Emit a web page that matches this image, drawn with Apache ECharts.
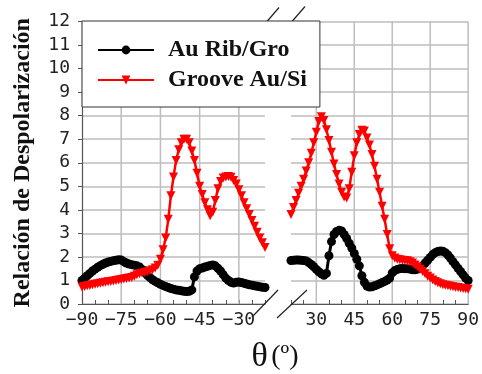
<!DOCTYPE html>
<html>
<head>
<meta charset="utf-8">
<script src="https://cdn.jsdelivr.net/npm/echarts@6/dist/echarts.min.js"></script>
<style>
  html, body { margin: 0; padding: 0; background: #fff; }
  #chart { width: 482px; height: 374px; }
</style>
</head>
<body>
<div id="chart"></div>
<script>
// Scattering angle (degrees) sampled on each side of the axis break
const thetaLeft = [-90,-89,-88,-87,-86,-85,-84,-83,-82,-81,-80,-79,-78,-77,-76,-75,-74,-73,-72,-71,
  -70,-69,-68,-67,-66,-65,-64,-63,-62,-61,-60,-59,-58,-57,-56,-55,-54,-53,-52,-51,
  -50,-49,-48,-47,-46,-45,-44,-43,-42,-41,-40,-39,-38,-37,-36,-35,-34,-33,-32,-31,
  -30,-29,-28,-27,-26,-25,-24,-23,-22,-21,-20];
const thetaRight = [20,21,22,23,24,25,26,27,28,29,30,31,32,33,34,35,36,37,38,39,
  40,41,42,43,44,45,46,47,48,49,50,51,52,53,54,55,56,57,58,59,
  60,61,62,63,64,65,66,67,68,69,70,71,72,73,74,75,76,77,78,79,
  80,81,82,83,84,85,86,87,88,89,90];

// Depolarization ratio, Au rib / groove
const ribLeft = [1.00,1.10,1.20,1.30,1.40,1.48,1.56,1.63,1.69,1.74,1.78,1.81,1.84,1.86,1.88,1.87,1.80,1.74,1.70,1.67,
  1.65,1.62,1.57,1.47,1.35,1.22,1.12,1.03,0.96,0.90,0.84,0.79,0.74,0.70,0.66,0.63,0.60,0.58,0.56,0.54,
  0.53,0.54,0.60,1.15,1.40,1.50,1.53,1.57,1.60,1.64,1.66,1.62,1.52,1.40,1.25,1.10,1.00,0.92,0.89,0.92,
  0.93,0.91,0.88,0.85,0.82,0.80,0.77,0.75,0.73,0.71,0.70];
const ribRight = [1.85,1.86,1.87,1.87,1.86,1.85,1.83,1.76,1.68,1.58,1.47,1.37,1.28,1.22,1.30,2.05,2.65,2.95,3.08,3.13,
  3.10,2.95,2.78,2.58,2.38,2.15,1.90,1.62,1.20,0.92,0.76,0.72,0.73,0.77,0.81,0.86,0.91,0.96,1.02,1.10,
  1.32,1.42,1.47,1.50,1.51,1.50,1.50,1.48,1.46,1.45,1.48,1.54,1.62,1.74,1.86,1.98,2.10,2.18,2.23,2.25,
  2.24,2.18,2.08,1.95,1.80,1.66,1.52,1.38,1.24,1.10,1.00];

// Depolarization ratio, groove Au / Si
const grooveLeft = [0.72,0.74,0.77,0.79,0.82,0.84,0.86,0.88,0.90,0.92,0.94,0.96,0.98,1.00,1.02,1.04,1.06,1.08,1.10,1.13,
  1.18,1.24,1.28,1.31,1.34,1.37,1.41,1.46,1.53,1.65,1.90,2.30,2.80,3.60,4.60,5.40,6.10,6.55,6.85,7.00,
  7.00,6.85,6.50,6.10,5.55,5.00,4.65,4.30,4.00,3.75,3.90,4.40,4.90,5.20,5.35,5.40,5.42,5.38,5.25,5.10,
  4.85,4.60,4.30,4.05,3.80,3.55,3.30,3.05,2.80,2.60,2.40];
const grooveRight = [3.80,4.10,4.40,4.70,5.00,5.30,5.65,6.00,6.40,6.85,7.30,7.75,7.95,7.80,7.40,6.95,6.45,5.95,5.50,5.10,
  4.75,4.55,4.50,4.90,5.60,6.30,6.85,7.20,7.38,7.35,7.05,6.75,6.35,5.85,5.30,4.75,4.15,3.60,2.95,2.35,
  2.05,1.95,1.90,1.88,1.86,1.85,1.84,1.80,1.74,1.66,1.57,1.48,1.38,1.28,1.18,1.10,1.02,0.96,0.90,0.86,
  0.82,0.80,0.77,0.75,0.73,0.71,0.70,0.68,0.66,0.65,0.63];

const seriesNames = ['Au Rib/Gro', 'Groove Au/Si'];
// Labelled angles of each panel; each carries a vertical grid line
const xTicksLeft = [-90, -75, -60, -45, -30];
const xTicksRight = [30, 45, 60, 75, 90];
const panelLeft = [-90, -20];
const panelRight = [20, 90];
const yRange = [0, 12];

const MONO = '"DejaVu Sans Mono", monospace';
const SERIF = '"Liberation Serif", "Times New Roman", serif';
const GRID_COLOR = '#bdbdbd';
const AXIS_COLOR = '#555';

const pairs = (xs, ys) => xs.map((x, i) => [x, ys[i]]);
const fmtAngle = ticks => v => ticks.indexOf(v) < 0 ? '' : (v < 0 ? '\u2212' + (-v) : String(v));

function ribSeries(data, idx) {
  return {
    name: seriesNames[0], type: 'line', data, xAxisIndex: idx, yAxisIndex: idx,
    color: '#000',
    symbol: 'circle', symbolSize: 9, showSymbol: true, showAllSymbol: true,
    lineStyle: { color: '#000', width: 3 },
    itemStyle: { color: '#000' },
    z: 3
  };
}
function grooveSeries(data, idx) {
  return {
    name: seriesNames[1], type: 'line', data, xAxisIndex: idx, yAxisIndex: idx,
    color: '#ff0000',
    symbol: 'triangle', symbolRotate: 180, symbolSize: 9, showSymbol: true, showAllSymbol: true,
    lineStyle: { color: '#ff0000', width: 2.5 },
    itemStyle: { color: '#ff0000' },
    z: 4
  };
}
// vertical grid lines at the labelled angles of one panel
function vGridSeries(ticks, idx) {
  return {
    type: 'custom', silent: true, z: 1, xAxisIndex: idx, yAxisIndex: idx,
    data: ticks.map(v => [v, yRange[0]]),
    renderItem: (params, api) => {
      const a = api.coord([api.value(0), yRange[0]]);
      const b = api.coord([api.value(0), yRange[1]]);
      return {
        type: 'line', silent: true,
        shape: { x1: a[0], y1: a[1], x2: b[0], y2: b[1] },
        style: { stroke: GRID_COLOR, lineWidth: 1.5 }
      };
    }
  };
}
function xAxisFor(range, ticks, idx) {
  return {
    type: 'value', gridIndex: idx, min: range[0], max: range[1], interval: 5,
    axisLine: { lineStyle: { color: AXIS_COLOR, width: 1.2 } },
    axisTick: { inside: true, length: 4, lineStyle: { color: AXIS_COLOR } },
    axisLabel: { margin: 7, fontFamily: MONO, fontSize: 18, color: '#222', formatter: fmtAngle(ticks), showMinLabel: true, showMaxLabel: true },
    splitLine: { show: false }
  };
}

const chart = echarts.init(document.getElementById('chart'), null, { renderer: 'canvas' });

chart.setOption({
  animation: false,
  backgroundColor: '#fff',
  grid: [
    { left: 82, right: 217, top: 21.5, bottom: 70 },
    { left: 291, right: 8, top: 21.5, bottom: 70 }
  ],
  legend: {
    data: seriesNames,
    orient: 'vertical',
    left: 82, top: 21,
    padding: [16, 13, 14, 15],
    itemGap: 4,
    itemWidth: 56, itemHeight: 11,
    backgroundColor: '#fff',
    borderColor: '#333', borderWidth: 1,
    textStyle: { fontFamily: SERIF, fontWeight: 'bold', fontSize: 24, lineHeight: 26, color: '#111', padding: [0, 0, 0, 9] },
    z: 300
  },
  xAxis: [
    xAxisFor(panelLeft, xTicksLeft, 0),
    xAxisFor(panelRight, xTicksRight, 1)
  ],
  yAxis: [
    {
      type: 'value', gridIndex: 0, min: yRange[0], max: yRange[1], interval: 1,
      axisLine: { show: true, lineStyle: { color: AXIS_COLOR, width: 1.2 } },
      axisTick: { show: true, length: 4, lineStyle: { color: AXIS_COLOR } },
      axisLabel: { margin: 12, fontFamily: MONO, fontSize: 18, color: '#222' },
      splitLine: { show: true, lineStyle: { color: GRID_COLOR, width: 1.5 } },
      name: 'Relación de Despolarización',
      nameLocation: 'middle', nameGap: 47,
      nameTextStyle: { fontFamily: SERIF, fontWeight: 'bold', fontSize: 24, color: '#111' }
    },
    {
      type: 'value', gridIndex: 1, min: yRange[0], max: yRange[1], interval: 1,
      axisLine: { show: false }, axisTick: { show: false }, axisLabel: { show: false },
      splitLine: { show: true, lineStyle: { color: GRID_COLOR, width: 1.5 } }
    }
  ],
  series: [
    vGridSeries(xTicksLeft.slice(1), 0),
    vGridSeries(xTicksRight, 1),
    ribSeries(pairs(thetaLeft, ribLeft), 0),
    ribSeries(pairs(thetaRight, ribRight), 1),
    grooveSeries(pairs(thetaLeft, grooveLeft), 0),
    grooveSeries(pairs(thetaRight, grooveRight), 1)
  ]
});

// Break marks (pairs of slashes) and the shared angle title between the panels
const xA = chart.convertToPixel({ xAxisIndex: 0 }, panelLeft[1]);
const xB = chart.convertToPixel({ xAxisIndex: 1 }, panelRight[0]);
const yTop = chart.convertToPixel({ yAxisIndex: 0 }, yRange[1]);
const yBot = chart.convertToPixel({ yAxisIndex: 0 }, yRange[0]);
const xMid = (chart.convertToPixel({ xAxisIndex: 0 }, panelLeft[0]) + chart.convertToPixel({ xAxisIndex: 1 }, panelRight[1])) / 2;
const slash = (x1, y1, x2, y2) => ({
  type: 'line', silent: true, z: 20,
  shape: { x1, y1, x2, y2 },
  style: { stroke: '#222', lineWidth: 1.2 }
});
chart.setOption({
  graphic: [
    slash(xA + 2, yTop, xA + 14, yTop - 14),
    slash(xB + 1, yTop, xB + 14, yTop - 15),
    slash(xA - 13, yBot + 13, xA + 13, yBot - 14),
    slash(xB - 14, yBot + 14, xB + 16, yBot - 14),
    {
      type: 'text', silent: true, z: 20,
      x: xMid, y: yBot + 36,
      style: {
        text: '{t|\u03b8} {p|(\u00ba)}',
        align: 'center', verticalAlign: 'top',
        rich: {
          t: { fontFamily: SERIF, fontSize: 34, fill: '#111' },
          p: { fontFamily: SERIF, fontSize: 28, fill: '#111' }
        }
      }
    }
  ]
});
</script>
</body>
</html>
